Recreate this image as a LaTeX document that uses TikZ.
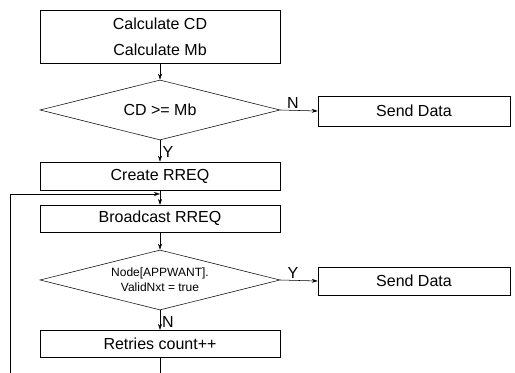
\documentclass[tikz,border=0pt]{standalone}
\usepackage{fontspec}
\setmainfont{Liberation Sans}
\usetikzlibrary{arrows.meta,shapes.geometric}

\begin{document}
\begin{tikzpicture}[x=0.75pt, y=-0.75pt,
  stepbox/.style={shape=rectangle, draw=black, thin, minimum width=180pt, inner sep=0pt, font=\fontsize{12}{19.5}\selectfont, align=center},
  sendbox/.style={shape=rectangle, draw=black, thin, minimum width=144pt, inner sep=0pt, font=\fontsize{12}{14}\selectfont},
  testbox/.style={shape=diamond, draw=black, thin, minimum width=180pt, minimum height=45pt, inner sep=0pt, aspect=4, align=center},
  flow/.style={-{Stealth[length=4.5pt,width=3pt]}, thin, draw=black},
  tag/.style={font=\fontsize{12}{14}\selectfont, inner sep=0pt}]
\useasboundingbox (0,0) rectangle (515,373);
\node[stepbox, minimum height=40pt] (calc) at (160,36.5) {Calculate CD\\Calculate Mb};
\node[testbox, font=\fontsize{12}{14}\selectfont] (cmp) at (160,110) {CD >= Mb};
\node[sendbox, minimum height=22.5pt] (send1) at (414,111) {Send Data};
\node[stepbox, minimum height=21pt] (create) at (160,176) {Create RREQ};
\node[stepbox, minimum height=20pt] (bcast) at (160,218.5) {Broadcast RREQ};
\node[testbox, font=\fontsize{9}{11.5}\selectfont] (valid) at (160,280) {Node[APPWANT].\\ValidNxt = true};
\node[sendbox, minimum height=21pt] (send2) at (414,281) {Send Data};
\node[stepbox, minimum height=20pt] (retry) at (160,343.5) {Retries count++};
\coordinate (join) at (160,194);
\coordinate (bot) at (160,373);
\coordinate (lbot) at (10,373);
\path (calc) edge[flow] (cmp);
\path (cmp.east) edge[flow] (send1.west);
\path (cmp.south) edge[flow] (create.north);
\path (create) edge[flow] (bcast);
\path (bcast) edge[flow] (valid);
\path (valid.east) edge[flow] (send2.west);
\path (valid.south) edge[flow] (retry.north);
\draw[thin] (retry.south) -- (bot);
\draw[flow] (lbot) |- (join);
\node[tag] (n1) at (293,103) {N};
\node[tag] (y1) at (168,152) {Y};
\node[tag] (y2) at (293,273) {Y};
\node[tag] (n2) at (168,322) {N};
\end{tikzpicture}
\end{document}
